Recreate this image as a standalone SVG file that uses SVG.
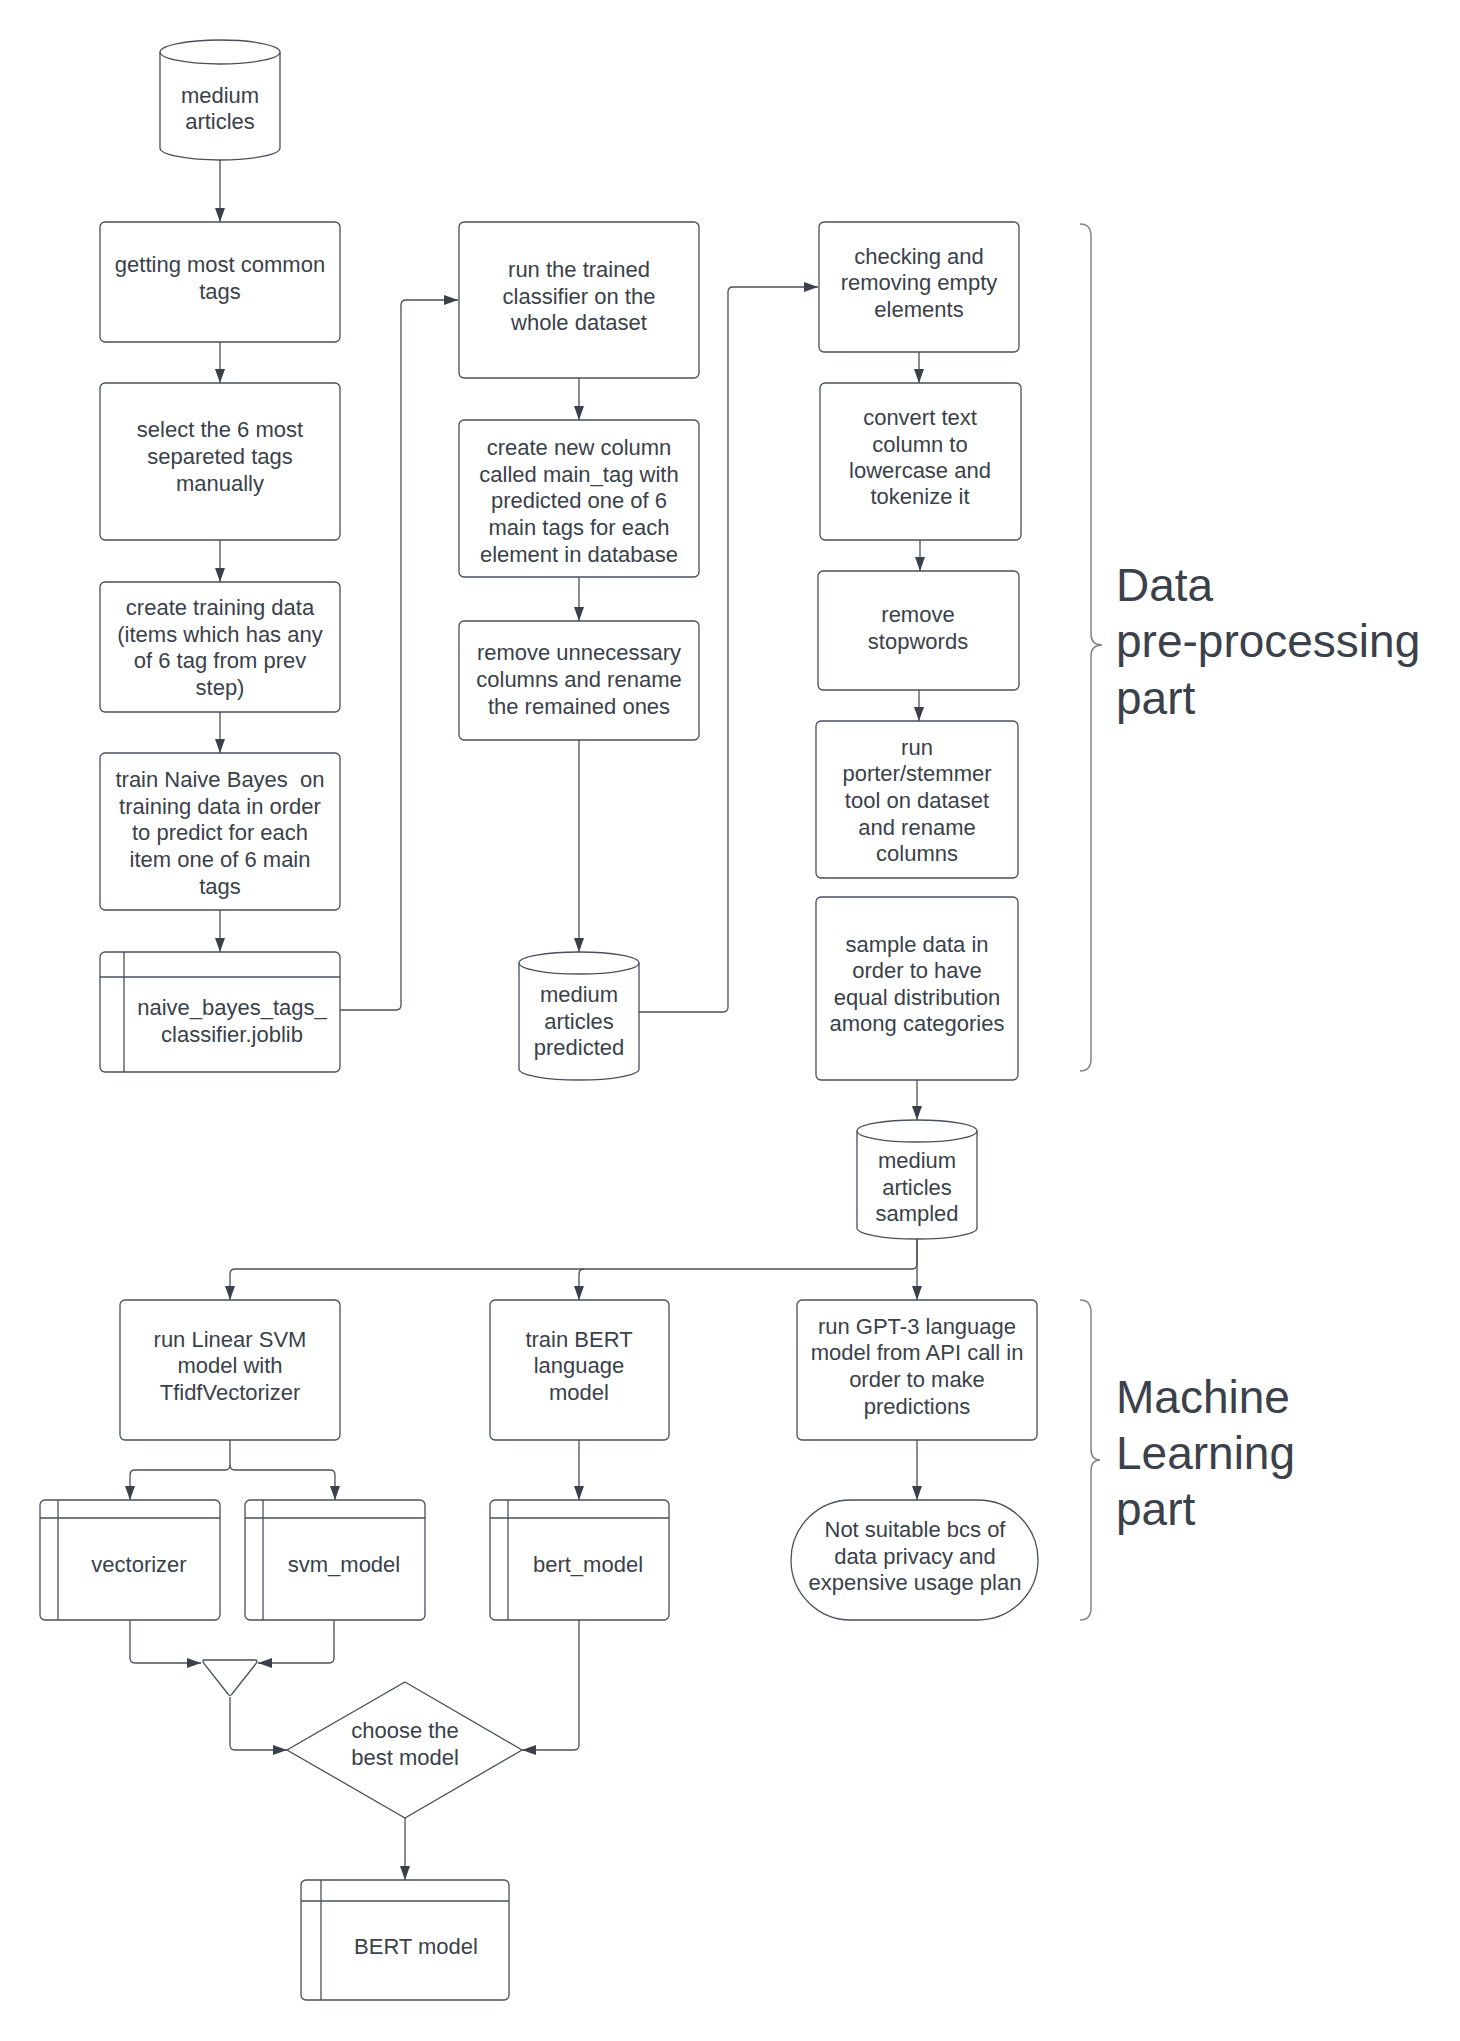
<svg xmlns="http://www.w3.org/2000/svg" width="1460" height="2041" viewBox="0 0 1460 2041">
<style>
.b{fill:#fff;stroke:#4a5059;stroke-width:1.3}
.l{fill:none;stroke:#4a5059;stroke-width:1.3}
.c{fill:none;stroke:#4a5059;stroke-width:1.3}
.br{fill:none;stroke:#80858c;stroke-width:1.5}
text{font-family:"Liberation Sans",Arial,sans-serif;font-size:22px;fill:#3a414a;text-anchor:middle}
.big{font-size:46px;text-anchor:start}
.pre{white-space:pre}
</style>
<defs>
<marker id="a" markerUnits="userSpaceOnUse" markerWidth="15" markerHeight="11" refX="14" refY="5" orient="auto" overflow="visible">
<path d="M0,0 L14,5 L0,10 z" fill="#3a414a"/>
</marker>
</defs>
<rect width="1460" height="2041" fill="#fff"/>
<g id="connectors">
<path class="c" d="M220,160 V222" marker-end="url(#a)"/>
<path class="c" d="M220,342 V383" marker-end="url(#a)"/>
<path class="c" d="M220,540 V582" marker-end="url(#a)"/>
<path class="c" d="M220,712 V753" marker-end="url(#a)"/>
<path class="c" d="M220,910 V952" marker-end="url(#a)"/>
<path class="c" d="M340,1010 H396 Q401,1010 401,1005 V305 Q401,300 406,300 H458" marker-end="url(#a)"/>
<path class="c" d="M579,378 V420" marker-end="url(#a)"/>
<path class="c" d="M579,577 V621" marker-end="url(#a)"/>
<path class="c" d="M579,740 V952" marker-end="url(#a)"/>
<path class="c" d="M639,1012 H723 Q728,1012 728,1007 V292 Q728,287 733,287 H818" marker-end="url(#a)"/>
<path class="c" d="M919,352 V383" marker-end="url(#a)"/>
<path class="c" d="M920,540 V571" marker-end="url(#a)"/>
<path class="c" d="M919,690 V721" marker-end="url(#a)"/>
<path class="c" d="M917,1080 V1120" marker-end="url(#a)"/>
<path class="c" d="M917,1239 V1300" marker-end="url(#a)"/>
<path class="c" d="M917,1239 V1264 Q917,1269 912,1269 H235 Q230,1269 230,1274 V1300" marker-end="url(#a)"/>
<path class="c" d="M584,1269 Q579,1269 579,1274 V1300" marker-end="url(#a)"/>
<path class="c" d="M230,1440 V1465 Q230,1470 225,1470 H135 Q130,1470 130,1475 V1500" marker-end="url(#a)"/>
<path class="c" d="M230,1465 Q230,1470 235,1470 H330 Q335,1470 335,1475 V1500" marker-end="url(#a)"/>
<path class="c" d="M579,1440 V1500" marker-end="url(#a)"/>
<path class="c" d="M917,1440 V1500" marker-end="url(#a)"/>
<path class="c" d="M130,1620 V1658 Q130,1663 135,1663 H201" marker-end="url(#a)"/>
<path class="c" d="M334,1620 V1658 Q334,1663 329,1663 H258" marker-end="url(#a)"/>
<path class="c" d="M230,1697 V1745 Q230,1750 235,1750 H287" marker-end="url(#a)"/>
<path class="c" d="M579,1620 V1745 Q579,1750 574,1750 H522" marker-end="url(#a)"/>
<path class="c" d="M405,1818 V1880" marker-end="url(#a)"/>
</g>
<g id="n-medium-articles">
<path class="b" d="M160,52 A60,12 0 0 1 280,52 V148 A60,12 0 0 1 160,148 Z"/>
<path class="l" d="M160,52 A60,12 0 0 0 280,52"/>
<text x="220" y="103">medium</text>
<text x="220" y="129">articles</text>
</g>
<g id="n-getting-tags">
<rect class="b" x="100" y="222" width="240" height="120" rx="5"/>
<text x="220" y="272">getting most common</text>
<text x="220" y="299">tags</text>
</g>
<g id="n-select-tags">
<rect class="b" x="100" y="383" width="240" height="157" rx="5"/>
<text x="220" y="437">select the 6 most</text>
<text x="220" y="464">separeted tags</text>
<text x="220" y="491">manually</text>
</g>
<g id="n-training-data">
<rect class="b" x="100" y="582" width="240" height="130" rx="5"/>
<text x="220" y="615">create training data</text>
<text x="220" y="642">(items which has any</text>
<text x="220" y="668">of 6 tag from prev</text>
<text x="220" y="695">step)</text>
</g>
<g id="n-train-nb">
<rect class="b" x="100" y="753" width="240" height="157" rx="5"/>
<text class="pre" x="220" y="787">train Naive Bayes  on</text>
<text x="220" y="814">training data in order</text>
<text x="220" y="840">to predict for each</text>
<text x="220" y="867">item one of 6 main</text>
<text x="220" y="894">tags</text>
</g>
<g id="n-nb-file">
<rect class="b" x="100" y="952" width="240" height="120" rx="5"/>
<path class="l" d="M100,977 H340 M124,952 V1072"/>
<text x="232" y="1015">naive_bayes_tags_</text>
<text x="232" y="1042">classifier.joblib</text>
</g>
<g id="n-run-classifier">
<rect class="b" x="459" y="222" width="240" height="156" rx="5"/>
<text x="579" y="277">run the trained</text>
<text x="579" y="304">classifier on the</text>
<text x="579" y="330">whole dataset</text>
</g>
<g id="n-new-column">
<rect class="b" x="459" y="420" width="240" height="157" rx="5"/>
<text x="579" y="455">create new column</text>
<text x="579" y="482">called main_tag with</text>
<text x="579" y="508">predicted one of 6</text>
<text x="579" y="535">main tags for each</text>
<text x="579" y="562">element in database</text>
</g>
<g id="n-remove-columns">
<rect class="b" x="459" y="621" width="240" height="119" rx="5"/>
<text x="579" y="660">remove unnecessary</text>
<text x="579" y="687">columns and rename</text>
<text x="579" y="714">the remained ones</text>
</g>
<g id="n-predicted">
<path class="b" d="M519,963 A60,11 0 0 1 639,963 V1069 A60,11 0 0 1 519,1069 Z"/>
<path class="l" d="M519,963 A60,11 0 0 0 639,963"/>
<text x="579" y="1002">medium</text>
<text x="579" y="1029">articles</text>
<text x="579" y="1055">predicted</text>
</g>
<g id="n-checking">
<rect class="b" x="819" y="222" width="200" height="130" rx="5"/>
<text x="919" y="264">checking and</text>
<text x="919" y="290">removing empty</text>
<text x="919" y="317">elements</text>
</g>
<g id="n-convert">
<rect class="b" x="820" y="383" width="201" height="157" rx="5"/>
<text x="920" y="425">convert text</text>
<text x="920" y="452">column to</text>
<text x="920" y="478">lowercase and</text>
<text x="920" y="504">tokenize it</text>
</g>
<g id="n-stopwords">
<rect class="b" x="818" y="571" width="201" height="119" rx="5"/>
<text x="918" y="622">remove</text>
<text x="918" y="649">stopwords</text>
</g>
<g id="n-porter">
<rect class="b" x="816" y="721" width="202" height="157" rx="5"/>
<text x="917" y="755">run</text>
<text x="917" y="781">porter/stemmer</text>
<text x="917" y="808">tool on dataset</text>
<text x="917" y="835">and rename</text>
<text x="917" y="861">columns</text>
</g>
<g id="n-sample">
<rect class="b" x="816" y="897" width="202" height="183" rx="5"/>
<text x="917" y="952">sample data in</text>
<text x="917" y="978">order to have</text>
<text x="917" y="1005">equal distribution</text>
<text x="917" y="1031">among categories</text>
</g>
<g id="n-sampled">
<path class="b" d="M857,1131 A60,11 0 0 1 977,1131 V1228 A60,11 0 0 1 857,1228 Z"/>
<path class="l" d="M857,1131 A60,11 0 0 0 977,1131"/>
<text x="917" y="1168">medium</text>
<text x="917" y="1195">articles</text>
<text x="917" y="1221">sampled</text>
</g>
<g id="n-svm">
<rect class="b" x="120" y="1300" width="220" height="140" rx="5"/>
<text x="230" y="1347">run Linear SVM</text>
<text x="230" y="1373">model with</text>
<text x="230" y="1400">TfidfVectorizer</text>
</g>
<g id="n-bert-train">
<rect class="b" x="490" y="1300" width="179" height="140" rx="5"/>
<text x="579" y="1347">train BERT</text>
<text x="579" y="1373">language</text>
<text x="579" y="1400">model</text>
</g>
<g id="n-gpt">
<rect class="b" x="797" y="1300" width="240" height="140" rx="5"/>
<text x="917" y="1334">run GPT-3 language</text>
<text x="917" y="1360">model from API call in</text>
<text x="917" y="1387">order to make</text>
<text x="917" y="1414">predictions</text>
</g>
<g id="n-not-suitable">
<rect class="b" x="791" y="1500" width="247" height="120" rx="60"/>
<text x="915" y="1537">Not suitable bcs of</text>
<text x="915" y="1564">data privacy and</text>
<text x="915" y="1590">expensive usage plan</text>
</g>
<g id="n-vectorizer">
<rect class="b" x="40" y="1500" width="180" height="120" rx="5"/>
<path class="l" d="M40,1518 H220 M58,1500 V1620"/>
<text x="139" y="1572">vectorizer</text>
</g>
<g id="n-svm-model">
<rect class="b" x="245" y="1500" width="180" height="120" rx="5"/>
<path class="l" d="M245,1518 H425 M263,1500 V1620"/>
<text x="344" y="1572">svm_model</text>
</g>
<g id="n-bert-model-file">
<rect class="b" x="490" y="1500" width="179" height="120" rx="5"/>
<path class="l" d="M490,1518 H669 M508,1500 V1620"/>
<text x="588" y="1572">bert_model</text>
</g>
<g id="n-merge">
<path class="b" d="M204,1660 H255 Q258,1660 256.5,1663 L232,1694 Q230,1697 228,1694 L203.5,1663 Q202,1660 204,1660 Z"/>
</g>
<g id="n-choose">
<path class="b" d="M405,1682 L522,1750 L405,1818 L287,1750 Z"/>
<text x="405" y="1738">choose the</text>
<text x="405" y="1765">best model</text>
</g>
<g id="n-bert-final">
<rect class="b" x="301" y="1880" width="208" height="120" rx="5"/>
<path class="l" d="M301,1901 H509 M321,1880 V2000"/>
<text x="416" y="1954">BERT model</text>
</g>
<g id="n-brace-data">
<path class="br" d="M1080,224 Q1091,224 1091,236 V634 Q1091,645 1102,645 Q1091,645 1091,656 V1059 Q1091,1071 1080,1071"/>
<text class="big" x="1116" y="601">Data</text>
<text class="big" x="1116" y="657">pre-processing</text>
<text class="big" x="1116" y="714">part</text>
</g>
<g id="n-brace-ml">
<path class="br" d="M1080,1300 Q1091,1300 1091,1312 V1449 Q1091,1460 1100,1460 Q1091,1460 1091,1471 V1608 Q1091,1620 1080,1620"/>
<text class="big" x="1116" y="1413">Machine</text>
<text class="big" x="1116" y="1469">Learning</text>
<text class="big" x="1116" y="1525">part</text>
</g>
</svg>
